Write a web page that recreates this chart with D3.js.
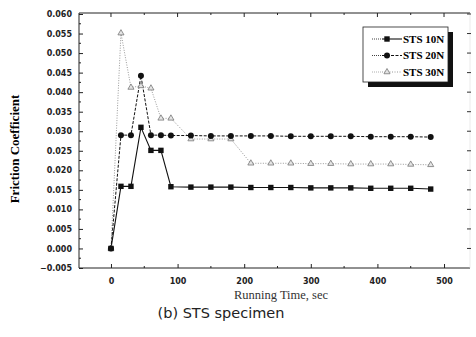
<!DOCTYPE html>
<html>
<head>
<meta charset="utf-8">
<script src="https://cdn.jsdelivr.net/npm/d3@7"></script>
<style>
  body { margin: 0; background: #fff; }
  svg { display: block; }
  .tick text { font-family: "DejaVu Sans", sans-serif; font-size: 8px; font-weight: bold; fill: #222; }
</style>
</head>
<body>
<svg></svg>
<script>
// running time (sec) for every measurement
const times = [0, 15, 30, 45, 60, 75, 90, 120, 150, 180, 210, 240, 270, 300, 330, 360, 390, 420, 450, 480];

const sts10 = [0, 0.0159, 0.0159, 0.031, 0.0251, 0.0251, 0.0158, 0.0157, 0.0157, 0.0157, 0.0156,
  0.0156, 0.0156, 0.0155, 0.0155, 0.0155, 0.0154, 0.0154, 0.0154, 0.0152];
const sts20 = [0, 0.029, 0.029, 0.0442, 0.029, 0.029, 0.0289, 0.0289, 0.0288, 0.0288, 0.0288,
  0.0288, 0.0287, 0.0287, 0.0287, 0.0287, 0.0286, 0.0286, 0.0286, 0.0285];
const sts30 = [0, 0.0551, 0.0412, 0.0416, 0.041, 0.0333, 0.0333, 0.028, 0.028, 0.028, 0.0218,
  0.0218, 0.0218, 0.0217, 0.0217, 0.0216, 0.0216, 0.0216, 0.0215, 0.0214];

const seriesNames = ["STS 10N", "STS 20N", "STS 30N"];
const xTicks = [0, 100, 200, 300, 400, 500];
const yTicks = d3.range(-0.005, 0.0601, 0.005);

const width = 476, height = 337;
const margin = { top: 13, right: 6, bottom: 69, left: 79 };

const svg = d3.select("svg").attr("width", width).attr("height", height);

const x = d3.scaleLinear().domain([-48, 539]).range([margin.left, width - margin.right]);
const y = d3.scaleLinear().domain([-0.005, 0.060]).range([268, 14]);

const pl = margin.left, pr = width - margin.right, pt = margin.top, pb = 268;

// frame
svg.append("line").attr("x1", pl).attr("x2", pr).attr("y1", pt).attr("y2", pt)
  .attr("stroke", "#222").attr("stroke-width", 1);
svg.append("line").attr("x1", pl).attr("x2", pr).attr("y1", pb).attr("y2", pb)
  .attr("stroke", "#222").attr("stroke-width", 1);
svg.append("line").attr("x1", pl).attr("x2", pl).attr("y1", pt).attr("y2", pb)
  .attr("stroke", "#222").attr("stroke-width", 1);
svg.append("line").attr("x1", pr).attr("x2", pr).attr("y1", pt).attr("y2", pb)
  .attr("stroke", "#ddd").attr("stroke-width", 0.6);

// Y axis (ticks inward)
const yAxis = svg.append("g")
  .attr("transform", `translate(${pl},0)`)
  .call(d3.axisLeft(y).tickValues(yTicks).tickFormat(d3.format(".3f")).tickSizeInner(-4).tickSizeOuter(0).tickPadding(7));
yAxis.select(".domain").remove();
yAxis.selectAll(".tick line").attr("stroke", "#222");

// minor y ticks
svg.append("g").selectAll("line")
  .data(d3.range(-0.0025, 0.06, 0.005))
  .join("line")
  .attr("x1", pl).attr("x2", pl + 2)
  .attr("y1", d => y(d)).attr("y2", d => y(d))
  .attr("stroke", "#222");

// right ticks
svg.append("g").selectAll("line")
  .data(yTicks.slice(1))
  .join("line")
  .attr("x1", pr - 3).attr("x2", pr + 1)
  .attr("y1", d => y(d)).attr("y2", d => y(d))
  .attr("stroke", "#333");

// X axis
const xAxis = svg.append("g")
  .attr("transform", `translate(0,${pb})`)
  .call(d3.axisBottom(x).tickValues(xTicks).tickSizeInner(-4).tickSizeOuter(0).tickPadding(10));
xAxis.select(".domain").remove();
xAxis.selectAll(".tick line").attr("stroke", "#222");

// minor x ticks, bottom and top
svg.append("g").selectAll("line")
  .data(d3.range(50, 540, 100))
  .join("line")
  .attr("x1", d => x(d)).attr("x2", d => x(d))
  .attr("y1", pb).attr("y2", pb - 2)
  .attr("stroke", "#222");
svg.append("g").selectAll("line")
  .data(d3.range(0, 540, 50))
  .join("line")
  .attr("x1", d => x(d)).attr("x2", d => x(d))
  .attr("y1", pt).attr("y2", d => pt + (d % 100 === 0 ? 4 : 2))
  .attr("stroke", "#222");

// series
const series = [
  { name: seriesNames[0], values: sts10, dash: null, color: "#111", width: 1.1, marker: "square" },
  { name: seriesNames[1], values: sts20, dash: "3,1.5", color: "#111", width: 1, marker: "circle" },
  { name: seriesNames[2], values: sts30, dash: "1,1.5", color: "#999", width: 1, marker: "triangle" }
];

const line = d3.line().x((d, i) => x(times[i])).y(d => y(d));

function drawMarker(g, type, cx, cy) {
  if (type === "square") {
    g.append("rect").attr("x", cx - 2.7).attr("y", cy - 2.7).attr("width", 5.4).attr("height", 5.4).attr("fill", "#111");
  } else if (type === "circle") {
    g.append("circle").attr("cx", cx).attr("cy", cy).attr("r", 3).attr("fill", "#111");
  } else {
    g.append("path").attr("d", d3.symbol(d3.symbolTriangle, 16)())
      .attr("transform", `translate(${cx},${cy})`)
      .attr("fill", "#e4e4e4").attr("stroke", "#777").attr("stroke-width", 0.8);
  }
}

series.slice().reverse().forEach(s => {
  svg.append("path")
    .datum(s.values)
    .attr("d", line)
    .attr("fill", "none")
    .attr("stroke", s.color)
    .attr("stroke-width", s.width)
    .attr("stroke-dasharray", s.dash);
});
series.slice().reverse().forEach(s => {
  const g = svg.append("g");
  s.values.forEach((v, i) => drawMarker(g, s.marker, x(times[i]), y(v)));
});

// legend
const lg = svg.append("g").attr("transform", "translate(363,27)");
lg.append("rect").attr("x", 5).attr("y", 5).attr("width", 85).attr("height", 55).attr("fill", "#111");
lg.append("rect").attr("x", 0).attr("y", 0).attr("width", 85).attr("height", 55)
  .attr("fill", "#fff").attr("stroke", "#222").attr("stroke-width", 0.8);
series.forEach((s, i) => {
  const ly = 12 + i * 16.5;
  lg.append("line").attr("x1", 9).attr("x2", 19).attr("y1", ly).attr("y2", ly)
    .attr("stroke", s.color).attr("stroke-width", 0.8).attr("stroke-dasharray", "1,1");
  lg.append("line").attr("x1", 19).attr("x2", 39).attr("y1", ly).attr("y2", ly)
    .attr("stroke", s.color).attr("stroke-width", s.width).attr("stroke-dasharray", s.dash);
  drawMarker(lg, s.marker, 24, ly);
  lg.append("text").attr("x", 40).attr("y", ly + 3.5)
    .style("font-family", "'Liberation Serif', 'Times New Roman', serif")
    .style("font-size", "11px").style("font-weight", "bold")
    .text(s.name);
});

// axis labels
svg.append("text")
  .attr("transform", "rotate(-90)")
  .attr("x", -149).attr("y", 19)
  .style("text-anchor", "middle")
  .style("font-family", "'Liberation Serif', 'Times New Roman', serif")
  .style("font-size", "13px").style("font-weight", "bold")
  .text("Friction Coefficient");

svg.append("text")
  .attr("x", 281).attr("y", 299)
  .style("text-anchor", "middle")
  .style("font-family", "'Liberation Serif', 'Times New Roman', serif")
  .style("font-size", "12.5px").style("font-weight", "normal")
  .style("fill", "#333")
  .text("Running Time, sec");

svg.append("text")
  .attr("x", 221).attr("y", 318)
  .style("text-anchor", "middle")
  .style("font-family", "'DejaVu Sans', sans-serif")
  .style("font-size", "14.5px")
  .style("fill", "#222")
  .text("(b) STS specimen");
</script>
</body>
</html>
